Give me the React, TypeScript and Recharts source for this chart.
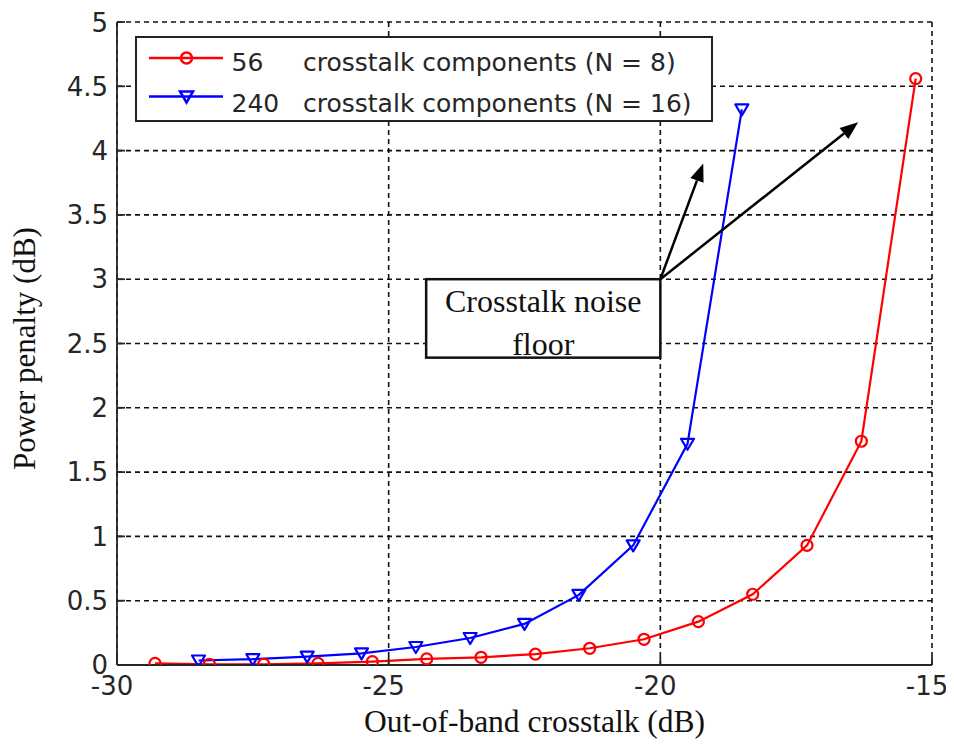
import React from 'react';
import {
  LineChart,
  Line,
  XAxis,
  YAxis,
  CartesianGrid,
  Legend,
  ReferenceArea,
  ReferenceLine,
  Label,
} from 'recharts';

// Out-of-band crosstalk (dB) sample points for each configuration
const crosstalkN8 = [-29.3, -28.3, -27.3, -26.3, -25.3, -24.3, -23.3, -22.3, -21.3, -20.3, -19.3, -18.3, -17.3, -16.3, -15.3];
const penaltyN8 = [0.013, 0.006, 0.006, 0.013, 0.026, 0.047, 0.06, 0.085, 0.13, 0.2, 0.337, 0.55, 0.93, 1.74, 4.56];

const crosstalkN16 = [-28.5, -27.5, -26.5, -25.5, -24.5, -23.5, -22.5, -21.5, -20.5, -19.5, -18.5];
const penaltyN16 = [0.035, 0.045, 0.065, 0.09, 0.14, 0.21, 0.32, 0.545, 0.93, 1.72, 4.32];

const xTicks = [-30, -25, -20, -15];
const yTicks = [0, 0.5, 1, 1.5, 2, 2.5, 3, 3.5, 4, 4.5, 5];

const legendCounts = ['56', '240'];
const legendLabels = ['crosstalk components (N = 8)', 'crosstalk components (N = 16)'];
const noteLines = ['Crosstalk noise', 'floor'];

// annotation anchors, in axis units
const noteLeft = -24.31;
const noteBottom = 2.39;
const arrowTail = { x: -20, y: 3 };
const arrowTips = [
  { x: -19.21, y: 3.9 },
  { x: -16.36, y: 4.22 },
];

const RED = '#ff0000';
const BLUE = '#0000ff';
const SANS = '"DejaVu Sans", sans-serif';
const SERIF = '"Liberation Serif", "Times New Roman", serif';

const seriesN8 = crosstalkN8.map((x, i) => ({ x, y: penaltyN8[i] }));
const seriesN16 = crosstalkN16.map((x, i) => ({ x, y: penaltyN16[i] }));

const CircleDot = (p: any) => (
  <circle key={`c-${p.index}`} cx={p.cx} cy={p.cy} r={5.5} fill="none" stroke={RED} strokeWidth={2.2} />
);

const TriangleDot = (p: any) => (
  <polygon
    key={`t-${p.index}`}
    points={`${p.cx - 6.5},${p.cy - 5} ${p.cx + 6.5},${p.cy - 5} ${p.cx},${p.cy + 6}`}
    fill="none"
    stroke={BLUE}
    strokeWidth={2.2}
    strokeLinejoin="round"
  />
);

const LegendBox = () => (
  <svg width={578} height={86} style={{ display: 'block' }}>
    <rect x={1} y={1} width={576} height={84} fill="#fff" stroke="#222" strokeWidth={2} />
    {/* N = 8 row */}
    <line x1={14} y1={22} x2={88} y2={22} stroke={RED} strokeWidth={2.5} />
    <circle cx={51.5} cy={22} r={5.5} fill="none" stroke={RED} strokeWidth={2.5} />
    <text x={96.5} y={34.5} fontFamily={SANS} fontSize={25} fill="#262626">{legendCounts[0]}</text>
    <text x={168} y={34.5} fontFamily={SANS} fontSize={25} fill="#262626">{legendLabels[0]}</text>
    {/* N = 16 row */}
    <line x1={14} y1={60.5} x2={88} y2={60.5} stroke={BLUE} strokeWidth={2.5} />
    <polygon points="45,55.5 58,55.5 51.5,66.5" fill="none" stroke={BLUE} strokeWidth={2.5} />
    <text x={96.5} y={75.5} fontFamily={SANS} fontSize={25} fill="#262626">{legendCounts[1]}</text>
    <text x={168} y={75.5} fontFamily={SANS} fontSize={25} fill="#262626">{legendLabels[1]}</text>
  </svg>
);

const NoteBox = (p: any) => {
  const cx = p.x + p.width / 2;
  return (
    <g>
      <rect x={p.x} y={p.y} width={p.width} height={p.height} fill="#fff" stroke="#111" strokeWidth={2.5} />
      <text x={cx} y={p.y + 33} textAnchor="middle" fontFamily={SERIF} fontSize={32} fill="#111">
        {noteLines[0]}
      </text>
      <text x={cx} y={p.y + 76} textAnchor="middle" fontFamily={SERIF} fontSize={32} fill="#111">
        {noteLines[1]}
      </text>
    </g>
  );
};

const Arrow = (p: any) => {
  const { x1, y1, x2, y2 } = p;
  const dx = x2 - x1;
  const dy = y2 - y1;
  const len = Math.sqrt(dx * dx + dy * dy) || 1;
  const ux = dx / len;
  const uy = dy / len;
  const head = 18;
  const half = 7;
  const bx = x2 - ux * head;
  const by = y2 - uy * head;
  return (
    <g>
      <line x1={x1} y1={y1} x2={bx} y2={by} stroke="#000" strokeWidth={2.5} />
      <polygon
        points={`${x2},${y2} ${bx - uy * half},${by + ux * half} ${bx + uy * half},${by - ux * half}`}
        fill="#000"
      />
    </g>
  );
};

const XTitle = (props: any) => {
  const vb = props.viewBox;
  return (
    <text x={vb.x + vb.width / 2 + 10} y={vb.y + 67} textAnchor="middle" fontFamily={SERIF} fontSize={31.5} fill="#111">
      Out-of-band crosstalk (dB)
    </text>
  );
};

const YTitle = (props: any) => {
  const vb = props.viewBox;
  const x = vb.x - 22;
  const y = vb.y + vb.height / 2 + 5;
  return (
    <text x={x} y={y} transform={`rotate(-90, ${x}, ${y})`} textAnchor="middle" fontFamily={SERIF} fontSize={31} fill="#111">
      Power penalty (dB)
    </text>
  );
};

export default function App() {
  return (
    <LineChart width={946} height={731} margin={{ top: 14, right: 22, bottom: 34, left: 49 }}>
      <CartesianGrid stroke="#111" strokeDasharray="5 4" strokeWidth={1.6} />
      <XAxis
        type="number"
        dataKey="x"
        domain={[-30, -15]}
        ticks={xTicks}
        height={40}
        allowDataOverflow
        tickSize={-8}
        tickMargin={20}
        axisLine={{ stroke: '#262626', strokeWidth: 1.8 }}
        tickLine={{ stroke: '#262626', strokeWidth: 1.8 }}
        tick={{ fontFamily: SANS, fontSize: 26, fill: '#262626', dx: -5 }}
      >
        <Label content={XTitle} />
      </XAxis>
      <YAxis
        type="number"
        dataKey="y"
        domain={[0, 5]}
        ticks={yTicks}
        width={60}
        allowDataOverflow
        tickSize={-8}
        tickMargin={17}
        axisLine={{ stroke: '#262626', strokeWidth: 1.8 }}
        tickLine={{ stroke: '#262626', strokeWidth: 1.8 }}
        tick={{ fontFamily: SANS, fontSize: 26, fill: '#262626' }}
      >
        <Label content={YTitle} />
      </YAxis>
      <Line
        data={seriesN8}
        dataKey="y"
        type="linear"
        stroke={RED}
        strokeWidth={2.2}
        dot={CircleDot}
        activeDot={false}
        isAnimationActive={false}
      />
      <Line
        data={seriesN16}
        dataKey="y"
        type="linear"
        stroke={BLUE}
        strokeWidth={2.2}
        dot={TriangleDot}
        activeDot={false}
        isAnimationActive={false}
      />
      <ReferenceArea x1={noteLeft} x2={arrowTail.x} y1={noteBottom} y2={arrowTail.y} shape={NoteBox} />
      {arrowTips.map((tip, i) => (
        <ReferenceLine key={i} segment={[arrowTail, tip]} shape={Arrow} />
      ))}
      <Legend
        layout="horizontal"
        verticalAlign="middle"
        content={LegendBox}
        wrapperStyle={{ left: 127, top: 28, width: 578, height: 86 }}
      />
    </LineChart>
  );
}
